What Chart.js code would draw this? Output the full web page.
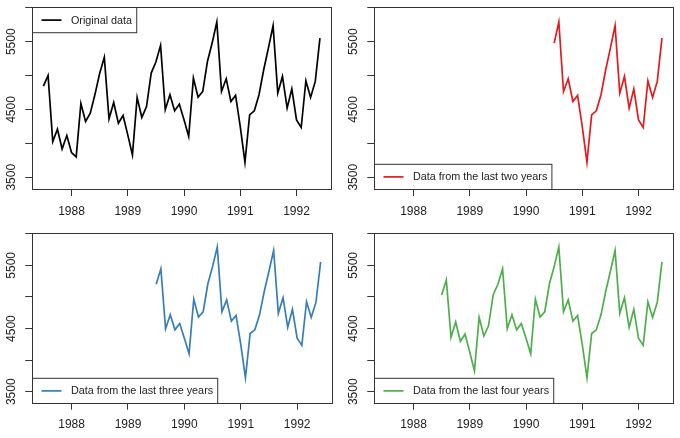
<!DOCTYPE html>
<html>
<head>
<meta charset="utf-8">
<script src="https://cdn.jsdelivr.net/npm/chart.js@4.4.1/dist/chart.umd.min.js"></script>
<style>
    html, body { margin: 0; padding: 0; background: #fff; }
    #wrap { position: relative; width: 680px; height: 438px; }
    #wrap canvas { position: absolute; }
</style>
</head>
<body>
<div id="wrap">
    <canvas id="panel0" width="340" height="219" style="left:0;top:0"></canvas>
    <canvas id="panel1" width="340" height="219" style="left:340px;top:0"></canvas>
    <canvas id="panel2" width="340" height="219" style="left:0;top:219px"></canvas>
    <canvas id="panel3" width="340" height="219" style="left:340px;top:219px"></canvas>
</div>
<script>
// monthly series, first month Jul 1987, last month Jun 1992
const startYear = 1987;
const startMonth = 7;
const values = [
    4845, 5003, 4027, 4209, 3919, 4116,
    3865, 3800, 4589, 4323, 4446, 4720, 5030, 5270, 4362, 4603, 4298, 4411,
    4126, 3830, 4677, 4382, 4544, 5037, 5200, 5446, 4495, 4717, 4480, 4579,
    4347, 4101, 4963, 4682, 4766, 5209, 5480, 5791, 4766, 4953, 4618, 4707,
    4249, 3722, 4421, 4480, 4717, 5086, 5406, 5736, 4741, 4988, 4520, 4805,
    4347, 4234, 4924, 4677, 4914, 5554
];

const panelLabels = ['Original data', 'Data from the last two years',
    'Data from the last three years', 'Data from the last four years'];
const panelMonths = [60, 24, 36, 48];
const panelColors = ['#000000', '#E41A1C', '#377EB8', '#4DAF4A'];
const legendCorner = ['top', 'bottom', 'bottom', 'bottom'];

const xTicks = [1988, 1989, 1990, 1991, 1992];
const yTicks = [3500, 4000, 4500, 5000, 5500, 6000];
const yTickLabels = ['3500', '', '4500', '', '5500', ''];

// where each plot box sits inside its canvas
const panelBox = [
    { axisLeft: 32.3, padTop: 7, padRight: 9, axisBottom: 30 },
    { axisLeft: 34.3, padTop: 7, padRight: 7, axisBottom: 30 },
    { axisLeft: 32.3, padTop: 14, padRight: 8.3, axisBottom: 35.3 },
    { axisLeft: 34.3, padTop: 14, padRight: 7, axisBottom: 35.3 }
];

const fontFamily = '"Liberation Sans", Arial, Helvetica, sans-serif';
const timeAxis = values.map((v, i) => startYear + (startMonth - 1 + i) / 12);

const frameBox = {
    id: 'frameBox',
    afterDraw(chart) {
        const { ctx, chartArea } = chart;
        const l = Math.round(chartArea.left) + 0.5;
        const t = Math.round(chartArea.top) + 0.5;
        const r = Math.round(chartArea.right) + 0.5;
        const b = Math.round(chartArea.bottom) + 0.5;
        ctx.save();
        ctx.strokeStyle = '#333';
        ctx.lineWidth = 1;
        ctx.strokeRect(l, t, r - l, b - t);
        ctx.restore();
    }
};

const legendBox = {
    id: 'legendBox',
    afterDatasetsDraw(chart, args, opts) {
        const { ctx, chartArea } = chart;
        const ds = chart.data.datasets[0];
        ctx.save();
        ctx.font = '10.8px ' + fontFamily;
        let w = 38.4 + ctx.measureText(ds.label).width + 4.6;
        let h = 25.2;
        let x = Math.round(chartArea.left) + 0.5;
        let y = opts.corner === 'top' ? Math.round(chartArea.top) + 0.5 : Math.round(chartArea.bottom) + 0.5 - h;
        ctx.fillStyle = '#fff';
        ctx.fillRect(x, y, w, h);
        ctx.strokeStyle = '#333';
        ctx.lineWidth = 1;
        ctx.strokeRect(x, y, w, h);
        ctx.strokeStyle = ds.borderColor;
        ctx.lineWidth = ds.borderWidth;
        ctx.beginPath();
        ctx.moveTo(x + 9, y + h / 2);
        ctx.lineTo(x + 29, y + h / 2);
        ctx.stroke();
        ctx.fillStyle = '#222';
        ctx.textBaseline = 'middle';
        ctx.textAlign = 'left';
        ctx.fillText(ds.label, x + 38.4, y + h / 2 + 0.5);
        ctx.restore();
    }
};

function gambarPanel(i) {
    let n = panelMonths[i];
    let box = panelBox[i];
    let points = values.slice(-n).map((v, k) => ({ x: timeAxis[values.length - n + k], y: v }));

    new Chart(document.getElementById('panel' + i), {
        type: 'line',
        data: {
            datasets: [{
                label: panelLabels[i],
                data: points,
                borderColor: panelColors[i],
                borderWidth: 1.7,
                pointRadius: 0,
                tension: 0,
                fill: false
            }]
        },
        options: {
            responsive: false,
            animation: false,
            layout: { padding: { top: box.padTop, right: box.padRight, left: 0, bottom: 0 } },
            plugins: {
                legend: { display: false },
                tooltip: { enabled: false },
                legendBox: { corner: legendCorner[i] }
            },
            scales: {
                x: {
                    type: 'linear',
                    min: 1987.303,
                    max: 1992.613,
                    border: { display: false },
                    grid: { drawOnChartArea: false, tickLength: 7, color: '#333', lineWidth: 1 },
                    ticks: {
                        autoSkip: false,
                        maxRotation: 0,
                        padding: 8,
                        color: '#222',
                        font: { family: fontFamily, size: 12 },
                        callback: function (value) {
                            return String(value);
                        }
                    },
                    afterBuildTicks: function (scale) {
                        scale.ticks = xTicks.map(v => ({ value: v }));
                    },
                    afterFit: function (scale) {
                        scale.height = box.axisBottom;
                        scale.paddingLeft = 0;
                        scale.paddingRight = 0;
                    }
                },
                y: {
                    type: 'linear',
                    min: 3327,
                    max: 6012,
                    border: { display: false },
                    grid: { drawOnChartArea: false, tickLength: 7, color: '#333', lineWidth: 1 },
                    ticks: {
                        autoSkip: false,
                        minRotation: 90,
                        maxRotation: 90,
                        crossAlign: 'center',
                        padding: 0,
                        color: '#222',
                        font: { family: fontFamily, size: 12 },
                        callback: function (value, index) {
                            return yTickLabels[index];
                        }
                    },
                    afterBuildTicks: function (scale) {
                        scale.ticks = yTicks.map(v => ({ value: v }));
                    },
                    afterFit: function (scale) {
                        scale.width = box.axisLeft;
                        scale.paddingTop = 0;
                        scale.paddingBottom = 0;
                    }
                }
            }
        },
        plugins: [frameBox, legendBox]
    });
}

for (let i = 0; i < 4; i++) {
    gambarPanel(i);
}
</script>
</body>
</html>
